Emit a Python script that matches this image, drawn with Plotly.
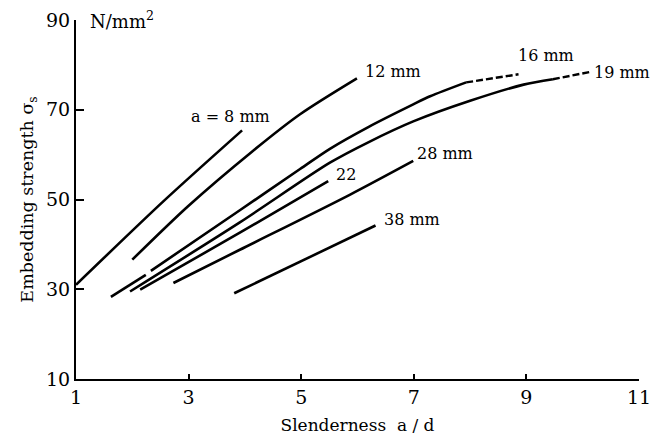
import plotly.graph_objects as go

# ---- data ----
x_8 = [1.0, 2.57, 3.95]
y_8 = [31.0, 49.8, 65.4]

x_12 = [2.0, 2.99, 4.12, 4.98, 5.99]
y_12 = [36.6, 48.5, 60.6, 69.0, 77.0]

x_16 = [1.62, 2.24, None, 2.33, 3.91, 4.98, 5.51, 6.2, 6.99, 7.29, 7.93]
y_16 = [28.3, 33.2, None, 34.1, 47.6, 56.8, 61.3, 66.2, 71.2, 73.0, 76.1]
x_16_ext = [7.93, 8.86]
y_16_ext = [76.1, 77.9]

x_19 = [1.96, 3.91, 5.51, 6.2, 6.99, 8.0, 8.95, 9.47]
y_19 = [29.5, 44.9, 58.2, 62.8, 67.4, 72.0, 75.6, 76.8]
x_19_ext = [9.47, 10.16]
y_19_ext = [76.8, 78.5]

x_22 = [2.14, 3.91, 5.48]
y_22 = [29.9, 42.6, 54.1]

x_28 = [2.73, 3.91, 5.87, 6.99]
y_28 = [31.4, 38.8, 51.1, 58.6]

x_38 = [3.81, 6.32]
y_38 = [29.1, 44.2]

curve_labels = ["a = 8 mm", "12 mm", "16 mm", "19 mm", "22", "28 mm", "38 mm"]
label_x = [3.74, 6.63, 9.35, 10.70, 5.80, 7.55, 6.97]
label_y = [68.5, 78.6, 82.0, 78.4, 55.6, 60.3, 45.5]

x_ticks = [1, 3, 5, 7, 9, 11]
y_ticks = [10, 30, 50, 70, 90]
unit_label = "N/mm<sup>2</sup>"

FONT = "DejaVu Serif"
INK = "black"

fig = go.Figure()

solid = [(x_8, y_8), (x_12, y_12), (x_16, y_16), (x_19, y_19),
         (x_22, y_22), (x_28, y_28), (x_38, y_38)]
for xs, ys in solid:
    fig.add_trace(go.Scatter(x=xs, y=ys, mode="lines",
                             line=dict(color=INK, width=2.6, shape="spline", smoothing=0.8),
                             connectgaps=False, hoverinfo="skip", showlegend=False))

for xs, ys in [(x_16_ext, y_16_ext), (x_19_ext, y_19_ext)]:
    fig.add_trace(go.Scatter(x=xs, y=ys, mode="lines",
                             line=dict(color=INK, width=2.4, dash="7px,3px"),
                             hoverinfo="skip", showlegend=False))

for t, lx, ly in zip(curve_labels, label_x, label_y):
    fig.add_annotation(x=lx, y=ly, text=t, showarrow=False,
                       font=dict(family=FONT, size=16, color=INK))

fig.add_annotation(x=1.21, y=90, text=unit_label, showarrow=False,
                   xanchor="left", yanchor="middle",
                   font=dict(family=FONT, size=18, color=INK))

# body of the page has an 8px default margin; size the figure so the plot area
# lands where the reference has it
fig.update_layout(
    width=653, height=432, autosize=False,
    margin=dict(l=68, r=22, t=12, b=61),
    paper_bgcolor="white", plot_bgcolor="white",
    font=dict(family=FONT, color=INK),
    xaxis=dict(range=[1, 11], tickvals=x_ticks, ticktext=[str(v) for v in x_ticks],
               showgrid=False, zeroline=False, showline=True, linecolor=INK, linewidth=2,
               ticks="inside", ticklen=5, tickwidth=2, tickcolor=INK, automargin=False,
               tickfont=dict(family=FONT, size=19, color=INK),
               title=dict(text="Slenderness\u00a0 a / d", standoff=12,
                          font=dict(family=FONT, size=17, color=INK))),
    yaxis=dict(range=[10, 90], tickvals=y_ticks, ticktext=[str(v) for v in y_ticks],
               showgrid=False, zeroline=False, showline=True, linecolor=INK, linewidth=2,
               ticks="inside", ticklen=8, tickwidth=2, tickcolor=INK, automargin=False,
               tickfont=dict(family=FONT, size=19, color=INK),
               title=dict(text="Embedding strength \u03c3<sub>s</sub>", standoff=8,
                          font=dict(family=FONT, size=17.5, color=INK))),
)

fig.write_html("out.html")
